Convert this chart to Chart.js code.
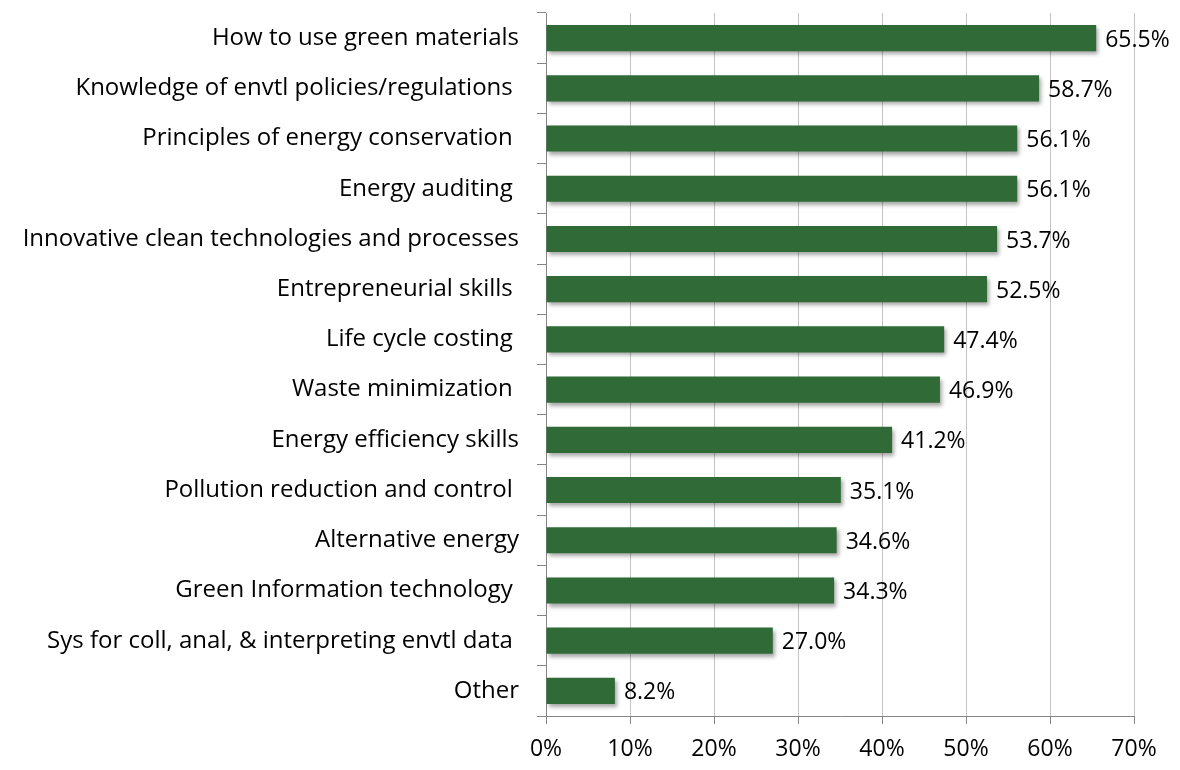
<!DOCTYPE html>
<html>
<head>
<meta charset="utf-8">
<script src="https://cdn.jsdelivr.net/npm/chart.js@4/dist/chart.umd.min.js"></script>
<style>
  html, body { margin: 0; padding: 0; background: #fff; }
  #wrap { width: 1180px; height: 770px; position: relative; }
</style>
</head>
<body>
<div id="wrap"><canvas id="chart"></canvas></div>
<script>
const skills = [
  'How to use green materials',
  'Knowledge of envtl policies/regulations ',
  'Principles of energy conservation ',
  'Energy auditing ',
  'Innovative clean technologies and processes',
  'Entrepreneurial skills ',
  'Life cycle costing ',
  'Waste minimization ',
  'Energy efficiency skills',
  'Pollution reduction and control ',
  'Alternative energy',
  'Green Information technology ',
  'Sys for coll, anal, & interpreting envtl data ',
  'Other'
];
const shares = [65.5, 58.7, 56.1, 56.1, 53.7, 52.5, 47.4, 46.9, 41.2, 35.1, 34.6, 34.3, 27.0, 8.2];
const pctTicks = [0, 10, 20, 30, 40, 50, 60, 70];

const FONT = '"Open Sans", Lato, sans-serif';

// soft shadow under the bars
const barShadow = {
  id: 'barShadow',
  beforeDatasetsDraw(chart) {
    const ctx = chart.ctx;
    ctx.save();
    ctx.shadowColor = 'rgba(0,0,0,0.35)';
    ctx.shadowBlur = 4;
    ctx.shadowOffsetX = 2;
    ctx.shadowOffsetY = 3;
  },
  afterDatasetsDraw(chart) {
    chart.ctx.restore();
  }
};

// value text to the right of each bar
const valueLabels = {
  id: 'valueLabels',
  afterDatasetsDraw(chart) {
    const ctx = chart.ctx;
    const meta = chart.getDatasetMeta(0);
    ctx.save();
    ctx.font = '23px ' + FONT;
    ctx.fillStyle = '#000';
    ctx.textAlign = 'left';
    ctx.textBaseline = 'middle';
    meta.data.forEach((bar, i) => {
      ctx.fillText(shares[i].toFixed(1) + '%', bar.x + 9, bar.y + 2);
    });
    ctx.restore();
  }
};

new Chart(document.getElementById('chart'), {
  type: 'bar',
  data: {
    labels: skills,
    datasets: [{
      data: shares,
      backgroundColor: '#2f6a37',
      borderWidth: 0,
      barPercentage: 0.52,
      categoryPercentage: 1
    }]
  },
  options: {
    indexAxis: 'y',
    responsive: true,
    maintainAspectRatio: false,
    animation: false,
    layout: { padding: { top: 13, right: 46, left: 0, bottom: 0 } },
    plugins: {
      legend: { display: false },
      tooltip: { enabled: false }
    },
    scales: {
      x: {
        min: 0,
        max: 70,
        afterBuildTicks(axis) {
          axis.ticks = pctTicks.map(v => ({ value: v }));
        },
        afterFit(axis) {
          axis.height = 54;
          axis.paddingLeft = 0;
          axis.paddingRight = 0;
        },
        grid: {
          color: '#c4c4c4',
          tickColor: '#868686',
          tickLength: 8,
          lineWidth: 1
        },
        border: { color: '#868686', width: 1 },
        ticks: {
          padding: 12,
          color: '#000',
          font: { family: FONT, size: 23 },
          callback: v => v + '%'
        }
      },
      y: {
        afterFit(axis) {
          axis.width = 546;
          axis.paddingTop = 0;
          axis.paddingBottom = 0;
        },
        grid: {
          offset: true,
          drawOnChartArea: false,
          tickColor: '#868686',
          tickLength: 9
        },
        border: { color: '#868686', width: 1 },
        ticks: {
          padding: 18,
          color: '#000',
          font: { family: FONT, size: 24 }
        }
      }
    }
  },
  plugins: [barShadow, valueLabels]
});
</script>
</body>
</html>
